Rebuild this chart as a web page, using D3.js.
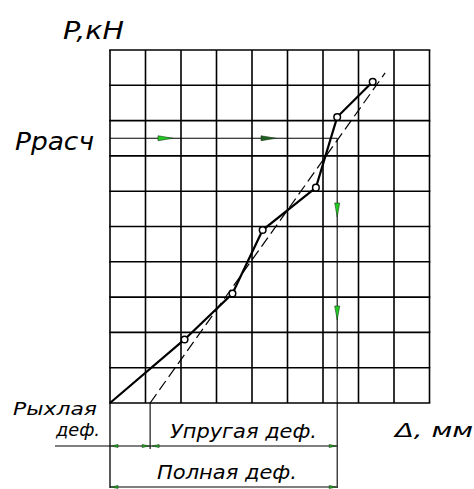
<!DOCTYPE html>
<html><head><meta charset="utf-8">
<script src="https://cdn.jsdelivr.net/npm/d3@7"></script>
<style>
html,body{margin:0;padding:0;background:#fff;}
text{font-family:"DejaVu Sans",sans-serif;font-style:italic;fill:#000;}
</style></head>
<body><svg id="c" width="474" height="489"></svg>
<script>
// ---- data (grid units) ----
const gridCols = 9, gridRows = 10;
const curveX = [0, 2.1, 3.45, 4.3, 5.8, 6.4, 7.4];
const curveY = [0, 1.8, 3.1, 4.9, 6.1, 8.1, 9.1];
const trendX = [1.13, 7.75];
const trendY = [0, 9.35];
const pRaschLevel = 7.5;
const totalDefX = 6.4;
const looseDefX = 1.13;
const labels = {yAxis:"P,кН", pRasch:"Ррасч", loose1:"Рыхлая", loose2:"деф.", elastic:"Упругая деф.", total:"Полная деф.", xAxis:"Δ, мм"};

const svg = d3.select("#c");
const x = d3.scaleLinear().domain([0, gridCols]).range([110, 429.5]);
const y = d3.scaleLinear().domain([0, gridRows]).range([403, 50]);

// grid
const g = svg.append("g");
g.selectAll("line.v").data(d3.range(0, gridCols+1)).join("line")
  .attr("x1", d=>x(d)).attr("x2", d=>x(d)).attr("y1", y(0)).attr("y2", y(gridRows))
  .attr("stroke","#000").attr("stroke-width",1.6);
g.selectAll("line.h").data(d3.range(0, gridRows+1)).join("line")
  .attr("y1", d=>y(d)).attr("y2", d=>y(d)).attr("x1", x(0)-0.8).attr("x2", x(gridCols)+0.8)
  .attr("stroke","#000").attr("stroke-width",1.6);

// P rasch horizontal + vertical down to bottom dimension
const yDim1 = 446, yDim2 = 487;
svg.append("line").attr("x1", x(0)).attr("x2", x(totalDefX)).attr("y1", y(pRaschLevel)).attr("y2", y(pRaschLevel))
  .attr("stroke","#000").attr("stroke-width",1.1);
svg.append("line").attr("x1", x(totalDefX)).attr("x2", x(totalDefX)).attr("y1", y(pRaschLevel)).attr("y2", yDim2+1)
  .attr("stroke","#000").attr("stroke-width",1.1);
// extension lines
svg.append("line").attr("x1", x(0)).attr("x2", x(0)).attr("y1", y(0)).attr("y2", yDim2+1)
  .attr("stroke","#000").attr("stroke-width",1.3);
svg.append("line").attr("x1", x(looseDefX)).attr("x2", x(looseDefX)).attr("y1", y(0)).attr("y2", yDim1+3)
  .attr("stroke","#000").attr("stroke-width",1.1);

// dimension lines
svg.append("line").attr("x1", 55).attr("x2", x(totalDefX)).attr("y1", yDim1).attr("y2", yDim1)
  .attr("stroke","#000").attr("stroke-width",1.1);
svg.append("line").attr("x1", x(0)).attr("x2", x(totalDefX)).attr("y1", yDim2).attr("y2", yDim2)
  .attr("stroke","#000").attr("stroke-width",1.1);

// arrows
function arrow(tipX, tipY, dir, len, w, fill){
  let pts;
  if(dir==='r') pts=[[tipX,tipY],[tipX-len,tipY-w/2],[tipX-len,tipY+w/2]];
  else if(dir==='l') pts=[[tipX,tipY],[tipX+len,tipY-w/2],[tipX+len,tipY+w/2]];
  else pts=[[tipX,tipY],[tipX-w/2,tipY-len],[tipX+w/2,tipY-len]];
  svg.append("path").attr("d", d3.line()(pts)+"Z").attr("fill",fill).attr("stroke","#1a3a1a").attr("stroke-width",0.6);
}
arrow(173, y(pRaschLevel), 'r', 15, 5, "#22cc22");
arrow(276, y(pRaschLevel), 'r', 15, 5, "#1f5f1f");
arrow(x(totalDefX), 217, 'd', 14, 5, "#22cc22");
arrow(x(totalDefX), 320, 'd', 14, 5, "#22cc22");
arrow(x(0)+1, yDim1, 'l', 7, 3, "#22aa22");
arrow(x(looseDefX)-1, yDim1, 'r', 7, 3, "#22aa22");
arrow(x(looseDefX)+2, yDim1, 'l', 7, 3, "#22aa22");
arrow(x(totalDefX)-1, yDim1, 'r', 7, 3, "#22aa22");
arrow(x(0)+1, yDim2, 'l', 7, 3, "#22aa22");
arrow(x(totalDefX)-1, yDim2, 'r', 7, 3, "#22aa22");

// trend dashed
svg.append("line").attr("x1", x(trendX[0])).attr("y1", y(trendY[0])).attr("x2", x(trendX[1])).attr("y2", y(trendY[1]))
  .attr("stroke","#000").attr("stroke-width",1.2).attr("stroke-dasharray","11,5");

// curve
const pts = curveX.map((v,i)=>[v, curveY[i]]);
svg.append("path").datum(pts).attr("d", d3.line().x(d=>x(d[0])).y(d=>y(d[1])))
  .attr("fill","none").attr("stroke","#000").attr("stroke-width",2.2);
svg.selectAll("circle").data(pts.slice(1)).join("circle")
  .attr("cx", d=>x(d[0])).attr("cy", d=>y(d[1])).attr("r",3.3)
  .attr("fill","#fff").attr("stroke","#000").attr("stroke-width",1.5);

// texts
function txt(s, x0, base, size, width){
  svg.append("text").attr("x",x0).attr("y",base).attr("font-size",size)
    .attr("textLength",width).attr("lengthAdjust","spacingAndGlyphs").text(s);
}
txt(labels.yAxis, 63, 39, 25, 61);
txt(labels.pRasch, 15, 150, 24, 79);
txt(labels.loose1, 13, 415, 17, 84);
txt(labels.loose2, 56, 436, 17, 44);
txt(labels.elastic, 170, 438, 19, 147);
txt(labels.total, 157, 479, 19, 140);
txt(labels.xAxis, 395, 437, 19, 78);
</script></body></html>
